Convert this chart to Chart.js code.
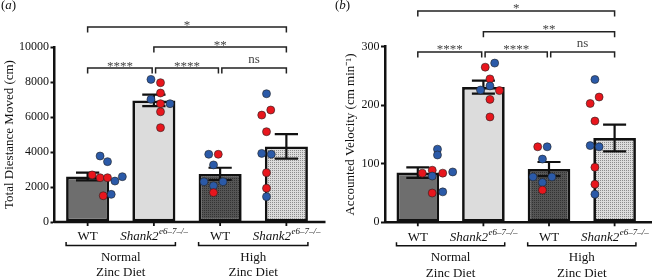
<!DOCTYPE html>
<html><head><meta charset="utf-8">
<script src="https://cdn.jsdelivr.net/npm/chart.js@4/dist/chart.umd.min.js"></script>
<style>
html,body{margin:0;padding:0;background:#fff;}
#wrap{position:relative;width:652px;height:277px;overflow:hidden;}
#c1{position:absolute;left:0;top:0;}
#c2{position:absolute;left:330px;top:0;}
</style></head>
<body><div id="wrap"><canvas id="c1" width="330" height="277"></canvas><canvas id="c2" width="322" height="277"></canvas></div>
<script>
// ---------- DATA ----------
const genotypes = ['WT', 'Shank2'];
const genotypeSup = ['', 'e6\u20137\u2013/\u2013'];
const dietLines1 = ['Normal', 'High'];
const dietLine2 = 'Zinc Diet';

const distMean = [2600, 6950, 2750, 4320];
const distSem  = [220, 330, 350, 700];
const distTicks = [0, 2000, 4000, 6000, 8000, 10000];
const distValues = [
  [3770, 3450, 2690, 2530, 2530, 2340, 2590, 1500, 1580],
  [8150, 7960, 7370, 7010, 6760, 6760, 6300, 5390],
  [3870, 3870, 3260, 2300, 2300, 2070, 1680],
  [7330, 6400, 6110, 5160, 3920, 3870, 2820, 1930, 1450]
];
const distJitter = [
  [-0.14, 0, -0.29, -0.14, 0, 0.14, 0.28, -0.08, 0.07],
  [-0.18, 0, 0, -0.18, 0, 0.18, 0, 0],
  [-0.09, 0.09, 0, -0.18, 0.18, 0, 0],
  [0, 0.08, -0.09, 0, -0.09, 0.09, 0, 0, 0]
];
const distSex = ['BBRRRBBRB', 'BRRBRBRR', 'BRBBBBR', 'BRRRBBRRB'];

const velMean = [85, 231, 91, 144];
const velSem  = [9, 11, 12, 23];
const velTicks = [0, 100, 200, 300];
const velValues = [
  [125, 115, 84, 89, 79, 84, 86, 50, 52],
  [265, 272, 245, 233, 226, 225, 210, 180],
  [129, 129, 108, 77.5, 77.5, 68, 55],
  [244, 214, 203, 173, 131, 129, 94, 65, 48]
];
const velJitter = [
  [0, 0, -0.29, -0.1, -0.1, 0.1, 0.29, -0.1, 0.1],
  [-0.09, 0.09, 0, 0, -0.18, 0.18, 0, 0],
  [-0.09, 0.09, 0, -0.18, 0.18, 0, 0],
  [0, 0.08, -0.09, 0, -0.09, 0.08, 0, 0, 0]
];
const velSex = ['BBRRBRBRB', 'RBRBBRRR', 'RBBBBBR', 'BRRRBBRRB'];

// significance comparisons: [fromGroup, toGroup, label]
const sigPairs = [[0, 1, '****'], [1, 2, '****'], [2, 3, 'ns'], [1, 3, '**'], [0, 3, '*']];
const distSigLevels = [8800, 8800, 8800, 10000, 11140];
const velSigLevels = [291, 291, 291, 325.5, 361];

// ---------- STYLE ----------
const SERIF = '"Liberation Serif", "Times New Roman", serif';
const RED = '#e8161d', BLUE = '#2b5aa8';

function makePattern(c1, c2) {
  const t = document.createElement('canvas');
  t.width = 2; t.height = 2;
  const g = t.getContext('2d');
  g.fillStyle = c1; g.fillRect(0, 0, 2, 2);
  g.fillStyle = c2; g.fillRect(0, 0, 1, 1);
  return g.createPattern(t, 'repeat');
}
const barFills = ['#6e6e6e', '#dcdcdc', makePattern('#555555', '#333333'), makePattern('#dcdcdc', '#8c8c8c')];

function scatterData(values, jitter) {
  const out = [];
  values.forEach((arr, g) => arr.forEach((v, i) => out.push({ x: g + jitter[g][i], y: v })));
  return out;
}
function scatterColors(sex) {
  const out = [];
  sex.forEach(s => s.split('').forEach(ch => out.push(ch === 'R' ? RED : BLUE)));
  return out;
}

const extrasPlugin = {
  id: 'extras',
  afterDatasetDraw(chart, args) {
    if (args.index !== 1) return; // after bars: error bars
    const o = chart.options.plugins.extras;
    const ctx = chart.ctx, y = chart.scales.y;
    const meta = chart.getDatasetMeta(1);
    ctx.save();
    ctx.strokeStyle = '#111'; ctx.lineWidth = 2.2; ctx.lineCap = 'butt';
    meta.data.forEach((bar, i) => {
      const x = bar.x, half = bar.width * 0.27;
      const yt = y.getPixelForValue(o.mean[i] + o.sem[i]);
      const yb = y.getPixelForValue(o.mean[i] - o.sem[i]);
      ctx.beginPath();
      ctx.moveTo(x, yt); ctx.lineTo(x, yb);
      ctx.moveTo(x - half, yt); ctx.lineTo(x + half, yt);
      ctx.moveTo(x - half, yb); ctx.lineTo(x + half, yb);
      ctx.stroke();
    });
    ctx.restore();
  },
  afterDraw(chart) {
    const o = chart.options.plugins.extras;
    const ctx = chart.ctx, y = chart.scales.y, xs = chart.scales.x;
    const area = chart.chartArea;
    const meta = chart.getDatasetMeta(1);
    ctx.save();
    // x axis line + ticks
    ctx.strokeStyle = '#111'; ctx.lineWidth = 2.5;
    ctx.beginPath();
    ctx.moveTo(area.left - 1, area.bottom); ctx.lineTo(area.right + 6, area.bottom);
    ctx.stroke();
    ctx.lineWidth = 1.8;
    ctx.beginPath();
    for (let i = 0; i < 4; i++) {
      const px = xs.getPixelForValue(i);
      ctx.moveTo(px, area.bottom); ctx.lineTo(px, area.bottom + 4);
    }
    ctx.stroke();

    // category labels
    ctx.fillStyle = '#111';
    ctx.textBaseline = 'middle';
    const ly = area.bottom + 15;
    for (let i = 0; i < 4; i++) {
      const px = xs.getPixelForValue(i);
      const g = i % 2;
      if (g === 0) {
        ctx.font = '13px ' + SERIF; ctx.textAlign = 'center';
        ctx.fillText(genotypes[0], px, ly);
      } else {
        ctx.font = 'italic 13px ' + SERIF;
        const w1 = ctx.measureText(genotypes[1]).width;
        ctx.font = 'italic 9px ' + SERIF;
        const w2 = ctx.measureText(genotypeSup[1]).width;
        const x0 = px - (w1 + w2) / 2;
        ctx.textAlign = 'left';
        ctx.font = 'italic 13px ' + SERIF;
        ctx.fillText(genotypes[1], x0, ly);
        ctx.font = 'italic 9px ' + SERIF;
        ctx.fillText(genotypeSup[1], x0 + w1 + 0.5, ly - 5);
      }
    }
    // group brackets + labels
    ctx.strokeStyle = '#111'; ctx.lineWidth = 1.5;
    for (let gidx = 0; gidx < 2; gidx++) {
      const b1 = meta.data[gidx * 2], b2 = meta.data[gidx * 2 + 1];
      const xl = b1.x - b1.width / 2, xr = b2.x + b2.width / 2;
      const by = area.bottom + 23.5;
      ctx.beginPath();
      ctx.moveTo(xl, by - 3.5); ctx.lineTo(xl, by); ctx.lineTo(xr, by); ctx.lineTo(xr, by - 3.5);
      ctx.stroke();
      ctx.font = '13px ' + SERIF; ctx.textAlign = 'center';
      const cx = (xl + xr) / 2;
      ctx.fillText(dietLines1[gidx], cx, area.bottom + 35.5);
      ctx.fillText(dietLine2, cx, area.bottom + 51);
    }
    // significance brackets
    sigPairs.forEach((p, k) => {
      const yy = y.getPixelForValue(o.sig[k]);
      let xa = xs.getPixelForValue(p[0]), xb = xs.getPixelForValue(p[1]);
      if (p[1] - p[0] === 1) {
        if (p[0] > 0) xa += 1.7;
        if (p[1] < 3) xb -= 1.7;
      }
      ctx.strokeStyle = '#222'; ctx.lineWidth = 1.5;
      ctx.beginPath();
      ctx.moveTo(xa, yy + 5.5); ctx.lineTo(xa, yy); ctx.lineTo(xb, yy); ctx.lineTo(xb, yy + 5.5);
      ctx.stroke();
      ctx.fillStyle = '#444';
      ctx.textAlign = 'center'; ctx.textBaseline = 'alphabetic';
      ctx.font = '13px ' + SERIF;
      const lab = p[2];
      ctx.fillText(lab, (xa + xb) / 2, lab === 'ns' ? yy - 5 : yy + 1.5);
    });
    // panel letter
    ctx.fillStyle = '#111'; ctx.textAlign = 'left'; ctx.textBaseline = 'middle';
    ctx.font = '13px ' + SERIF;
    const px0 = o.letterX;
    ctx.fillText('(', px0, 6);
    const wp = ctx.measureText('(').width;
    ctx.font = 'italic 13px ' + SERIF;
    ctx.fillText(o.letter, px0 + wp, 6);
    const wl = ctx.measureText(o.letter).width;
    ctx.font = '13px ' + SERIF;
    ctx.fillText(')', px0 + wp + wl, 6);
    ctx.restore();
  }
};

function makeChart(id, mean, sem, ticks, values, jitter, sex, sig, title, pad, titlePad, letter, letterX) {
  return new Chart(document.getElementById(id), {
    type: 'bar',
    data: {
      labels: ['WT', 'Shank2', 'WT ', 'Shank2 '],
      datasets: [
        {
          type: 'scatter', xAxisID: 'xj', yAxisID: 'y',
          data: scatterData(values, jitter),
          pointBackgroundColor: scatterColors(sex),
          pointBorderColor: '#222', pointBorderWidth: 0.6,
          pointRadius: 4, pointHoverRadius: 4, order: 0, clip: false
        },
        {
          type: 'bar', xAxisID: 'x', yAxisID: 'y',
          data: mean, grouped: false,
          backgroundColor: barFills,
          borderColor: '#111', borderWidth: 2.7, borderSkipped: false,
          barPercentage: 0.65, categoryPercentage: 1.0, order: 1
        }
      ]
    },
    options: {
      responsive: false, animation: false, devicePixelRatio: 1,
      layout: { padding: { left: pad.left, right: pad.right, top: pad.top, bottom: pad.bottom } },
      plugins: {
        legend: { display: false }, tooltip: { enabled: false },
        extras: { mean, sem, sig, letter, letterX }
      },
      scales: {
        x: { type: 'category', display: false, offset: true },
        xj: { type: 'linear', display: false, min: -0.5, max: 3.5 },
        y: {
          min: ticks[0], max: ticks[ticks.length - 1],
          afterBuildTicks: s => { s.ticks = ticks.map(v => ({ value: v })); },
          afterFit: s => { s.width = pad.yWidth; },
          border: { display: true, color: '#111', width: 2.5 },
          grid: { drawOnChartArea: false, drawTicks: true, tickLength: 4, tickColor: '#111', tickWidth: 2 },
          ticks: { color: '#111', padding: 1.5, font: { family: SERIF, size: 12 }, callback: v => String(v) },
          title: { display: true, text: title, color: '#111', font: { family: SERIF, size: 13 }, padding: { top: titlePad, bottom: 0 } }
        }
      }
    },
    plugins: [extrasPlugin]
  });
}

makeChart('c1', distMean, distSem, distTicks, distValues, distJitter, distSex, distSigLevels,
  'Total Diestance Moved (cm)', { left: 0, right: 10.5, top: 47, bottom: 55, yWidth: 54.5 }, 2, 'a', 1);
makeChart('c2', velMean, velSem, velTicks, velValues, velJitter, velSex, velSigLevels,
  'Accounted Velocity (cm min\u207B\u00B9)', { left: 0, right: 3, top: 46.7, bottom: 54.7, yWidth: 55 }, 12.8, 'b', 5);
</script></body></html>
